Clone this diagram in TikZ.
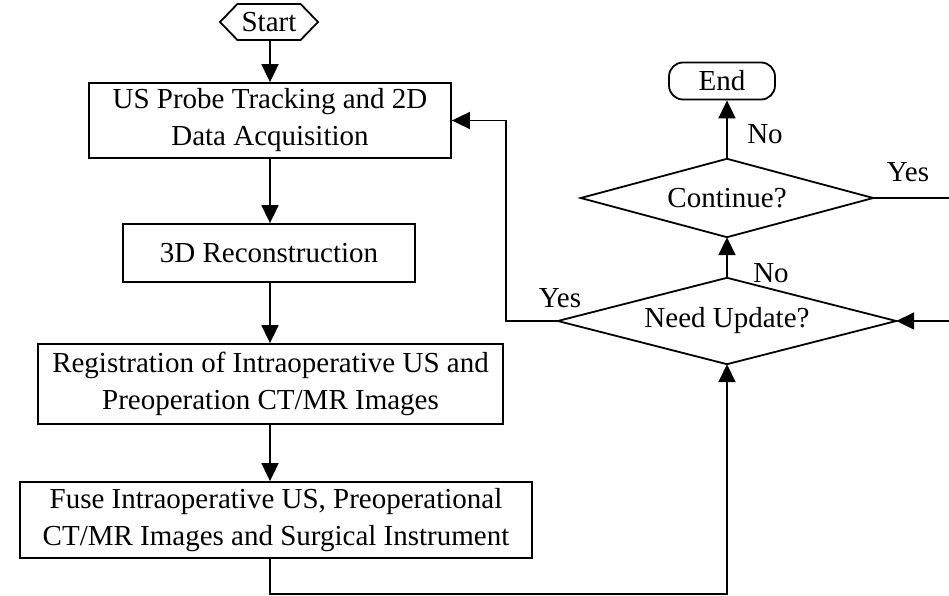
\documentclass[tikz,border=0pt]{standalone}
\usepackage{fontspec}
\setmainfont{Liberation Serif}
\usetikzlibrary{shapes.geometric,shapes.symbols,arrows.meta}
\begin{document}
\begin{tikzpicture}[x=1pt,y=-1pt,
  every node/.style={font=\fontsize{29}{37}\selectfont, inner sep=0pt, align=center},
  procbox/.style={draw, line width=1.8pt, rectangle},
  decbox/.style={rectangle},
  termbox/.style={draw, line width=1.8pt, rounded corners=14pt, rectangle},
  startbox/.style={draw, line width=1.8pt, signal, signal to=west and east, signal pointer angle=92},
  conn/.style={line width=1.8pt},
  arr/.style={conn, -{Triangle[length=18pt,width=17pt]}},
  lbl/.style={font=\fontsize{29}{37}\selectfont}
]
\useasboundingbox (0,0) rectangle (949,596);

\node[startbox, minimum width=98pt, minimum height=36pt] (start) at (269,22) {Start};
\node[procbox, minimum width=362pt, minimum height=75pt] (b1) at (270,120.5) {US Probe Tracking and 2D\\Data Acquisition};
\node[procbox, minimum width=292pt, minimum height=58pt] (b2) at (269,253) {3D Reconstruction};
\node[procbox, minimum width=465pt, minimum height=80pt] (b3) at (270.5,384) {Registration of Intraoperative US and\\Preoperation CT/MR Images};
\node[procbox, minimum width=512pt, minimum height=76pt] (b4) at (276,520) {Fuse Intraoperative US, Preoperational\\CT/MR Images and Surgical Instrument};

\node[decbox, minimum width=338pt, minimum height=86pt] (need) at (727,321) {Need Update?};
\draw[conn, line join=miter] (need.west) -- (need.north) -- (need.east) -- (need.south) -- cycle;
\node[decbox, minimum width=292pt, minimum height=78pt] (cont) at (727,198) {Continue?};
\draw[conn, line join=miter] (cont.west) -- (cont.north) -- (cont.east) -- (cont.south) -- cycle;
\node[termbox, minimum width=106pt, minimum height=37pt] (end) at (722,81) {End};

\coordinate (low) at (500,594);
\coordinate (r1) at (949,198);
\coordinate (r2) at (949,321);
\coordinate (yl) at (506,321);

\draw[arr] (start.south -| b1.north) -- (b1.north);
\draw[arr] (b1.south) -- (b1.south |- b2.north);
\draw[arr] (b1.south |- b2.south) -- (b1.south |- b3.north);
\draw[arr] (b1.south |- b3.south) -- (b1.south |- b4.north);
\draw[arr] (b1.south |- b4.south) |- (low) -| (need.south);
\draw[arr] (need.north) -- (cont.south);
\draw[arr] (cont.north) -- (cont.north |- end.south);
\draw[conn] (cont.east) -- (r1);
\draw[arr] (r2) -- (need.east);
\draw[arr] (need.west) -- (yl) |- (b1.east);

\node[lbl] (yes1) at (908,172) {Yes};
\node[lbl] (no1) at (765,134) {No};
\node[lbl] (no2) at (771,273) {No};
\node[lbl] (yes2) at (560,298) {Yes};
\end{tikzpicture}
\end{document}
